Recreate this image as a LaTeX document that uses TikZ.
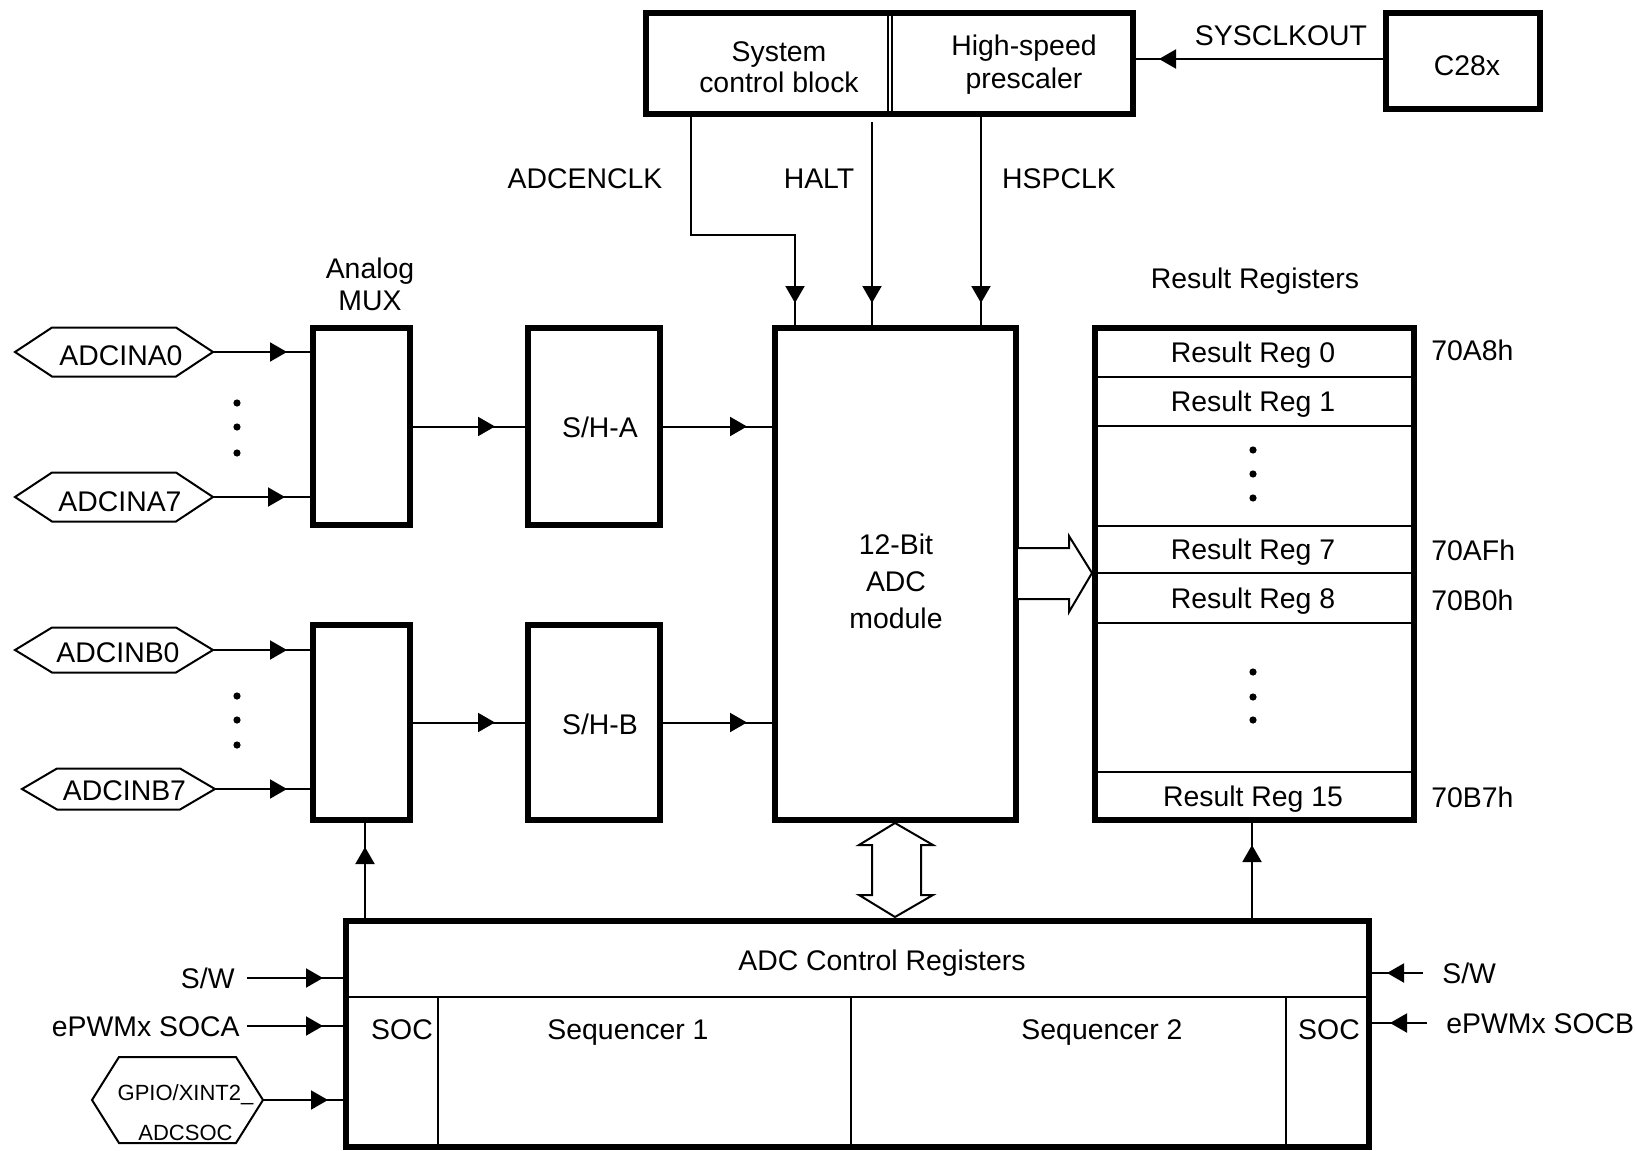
\documentclass[tikz,border=0pt]{standalone}
\usepackage{fontspec}
\setmainfont{Liberation Sans}
\usetikzlibrary{arrows.meta,decorations.markings,fit,calc}
\tikzset{
  thickbox/.style={draw, line width=3pt, inner sep=0pt},
  conn/.style={draw, line width=1pt},
  thinrule/.style={draw, line width=1pt},
  hollow/.style={draw, line width=1pt, fill=white, line join=miter},
  lbl/.style={inner sep=0pt, text height=0.716em, text depth=0pt, yshift=-1.8pt},
  mlbl/.style={inner sep=0pt, align=center, yshift=-1pt},
  arr/.style={postaction={decorate}, decoration={markings,
      mark=at position -#1 with {\arrow{Triangle[length=8.5pt,width=9.5pt]}}}},
  dotmark/.style={fill=black},
}
\newcommand\hexsig[8]{% name, cx, cy, half width, half height, slant, text shift x, text shift y
  \draw[conn] (#2-#4,#3) -- (#2-#4+#6,#3-#5) -- (#2+#4-#6,#3-#5) -- (#2+#4,#3)
     -- (#2+#4-#6,#3+#5) -- (#2-#4+#6,#3+#5) -- cycle;
  \coordinate (#1-e) at (#2+#4,#3);
  \coordinate (#1-t) at (#2+#7,#3+#8);
}
\begin{document}
\begin{tikzpicture}[x=0.5pt, y=-0.5pt, every node/.style={font=\fontsize{14.2pt}{16pt}\selectfont}]
\useasboundingbox (0,0) rectangle (1635,1151);

% ---------- top blocks ----------
\node[thickbox, fit={(646,13) (1133,114)}] (top) {};
\draw[line width=0.8pt] (888,16) -- (888,111);
\draw[line width=0.8pt] (892,16) -- (892,111);
\node[mlbl, font=\fontsize{14.2pt}{15.5pt}\selectfont] (scb) at (779,65) {System\\control block};
\node[mlbl, font=\fontsize{14.2pt}{16.5pt}\selectfont] (hsp) at (1024,63) {High-speed\\prescaler};
\node[thickbox, fit={(1386,13) (1540,109)}] (c28) {};
\node[lbl] (c28t) at (1467,65) {C28x};
\coordinate (ysys) at (0,59);
\draw[conn, arr=11.5pt] (c28.west |- ysys) -- (top.east |- ysys);
\node[lbl] (sysl) at (1281,35) {SYSCLKOUT};

% ---------- ADC module ----------
\node[thickbox, fit={(775,328) (1016,820)}] (adc) {};
\node[mlbl, font=\fontsize{14.2pt}{18.5pt}\selectfont] (adct) at (896,579) {12-Bit\\ADC\\module};

\coordinate (en1) at (691,235);
\coordinate (en2) at (795,235);
\draw[conn, arr=11pt] (top.south -| en1) -- (en1) -- (en2) -- (adc.north -| en2);
\coordinate (halt0) at (872,122);
\draw[conn, arr=11pt] (halt0) -- (adc.north -| halt0);
\coordinate (hsp0) at (981,0);
\draw[conn, arr=11pt] (top.south -| hsp0) -- (adc.north -| hsp0);
\node[lbl] (enl) at (585,178) {ADCENCLK};
\node[lbl] (haltl) at (819,178) {HALT};
\node[lbl] (hspl) at (1059,178) {HSPCLK};

% ---------- MUX and S/H ----------
\node[mlbl, font=\fontsize{14.2pt}{16pt}\selectfont] (muxl) at (370,282) {Analog\\MUX};
\node[thickbox, fit={(313,328) (410,525)}] (muxa) {};
\node[thickbox, fit={(313,625) (410,820)}] (muxb) {};
\node[thickbox, fit={(528,328) (660,525)}] (sha) {};
\node[thickbox, fit={(528,625) (660,820)}] (shb) {};
\node[lbl] (shat) at (600,427) {S/H-A};
\node[lbl] (shbt) at (600,724) {S/H-B};

\draw[conn, arr=15pt] (muxa.east) -- (sha.west);
\draw[conn, arr=15pt] (muxb.east) -- (shb.west);
\draw[conn, arr=12.5pt] (sha.east) -- (sha.east -| adc.west);
\draw[conn, arr=12.5pt] (shb.east) -- (shb.east -| adc.west);

% ---------- analog inputs ----------
\hexsig{a0}{114}{352}{99}{24.5}{37}{7}{3}
\hexsig{a7}{114}{497}{99}{24.5}{37}{6}{4}
\hexsig{b0}{114}{650}{99}{22.5}{37}{4}{2}
\hexsig{b7}{118.5}{789}{96.5}{20.5}{35}{6}{1}
\node[lbl] (a0t) at (a0-t) {ADCINA0};
\node[lbl] (a7t) at (a7-t) {ADCINA7};
\node[lbl] (b0t) at (b0-t) {ADCINB0};
\node[lbl] (b7t) at (b7-t) {ADCINB7};
\draw[conn, arr=11.5pt] (a0-e) -- (a0-e -| muxa.west);
\draw[conn, arr=12.5pt] (a7-e) -- (a7-e -| muxa.west);
\draw[conn, arr=11.5pt] (b0-e) -- (b0-e -| muxb.west);
\draw[conn, arr=11.5pt] (b7-e) -- (b7-e -| muxb.west);
\foreach \yy in {403,427,453,696,720,745} \fill[dotmark] (237,\yy) circle[radius=1.8pt];

% ---------- result registers ----------
\node[lbl] (resl) at (1255,278) {Result Registers};
\node[thickbox, fit={(1095,328) (1414,820)}] (res) {};
\foreach \yy in {377,426,526,573,623,772} \draw[thinrule] (1095,\yy) -- (1414,\yy);
\node[lbl] (r0) at (1253,352) {Result Reg 0};
\node[lbl] (r1) at (1253,401) {Result Reg 1};
\node[lbl] (r7) at (1253,549) {Result Reg 7};
\node[lbl] (r8) at (1253,598) {Result Reg 8};
\node[lbl] (r15) at (1253,796) {Result Reg 15};
\foreach \yy in {450,474,498,672,697,720} \fill[dotmark] (1253,\yy) circle[radius=1.8pt];
\node[lbl, anchor=west] (ad0) at (1431,350) {70A8h};
\node[lbl, anchor=west] (ad7) at (1431,550) {70AFh};
\node[lbl, anchor=west] (ad8) at (1431,600) {70B0h};
\node[lbl, anchor=west] (ad15) at (1431,797) {70B7h};

% hollow bus arrow ADC -> result
\draw[hollow] (1018,548) -- (1069,548) -- (1069,536) -- (1092,573) -- (1069,612) -- (1069,599) -- (1018,599);

% ---------- control registers ----------
\node[thickbox, fit={(346,921) (1369,1147)}] (ctrl) {};
\draw[thinrule] (346,997) -- (1369,997);
\draw[thinrule] (438,997) -- (438,1147);
\draw[thinrule] (851,997) -- (851,1147);
\draw[thinrule] (1286,997) -- (1286,1147);
\node[lbl] (ctrlt) at (882,960) {ADC Control Registers};
\node[lbl] (soc1) at (402,1029) {SOC};
\node[lbl] (seq1) at (628,1029) {Sequencer 1};
\node[lbl] (seq2) at (1102,1029) {Sequencer 2};
\node[lbl] (soc2) at (1329,1029) {SOC};

% hollow double arrow ADC <-> control
\draw[hollow] (895,823) -- (933,845) -- (921,845) -- (921,895) -- (933,895) -- (895,917)
   -- (859,895) -- (872,895) -- (872,845) -- (859,845) -- cycle;

% up arrows
\coordinate (xm) at (365,0);
\draw[conn, arr=12pt] (ctrl.north -| xm) -- (muxb.south -| xm);
\coordinate (xr) at (1252,0);
\draw[conn, arr=11pt] (ctrl.north -| xr) -- (res.south -| xr);

% left inputs
\coordinate (swl) at (247,978);
\draw[conn, arr=10pt] (swl) -- (swl -| ctrl.west);
\node[lbl, anchor=east] (swlt) at (235,978) {S/W};
\coordinate (soca) at (247,1026);
\draw[conn, arr=10pt] (soca) -- (soca -| ctrl.west);
\node[lbl, anchor=east] (socat) at (240,1026) {ePWMx SOCA};
\hexsig{gp}{177.5}{1100}{85.5}{43}{27}{8}{11}
\node[mlbl, font=\fontsize{11pt}{20pt}\selectfont] (gpt) at (gp-t) {GPIO/XINT2\_\\ADCSOC};
\draw[conn, arr=7.5pt] (gp-e) -- (gp-e -| ctrl.west);

% right inputs
\coordinate (swr) at (1423,973);
\draw[conn, arr=7.5pt] (swr) -- (swr -| ctrl.east);
\node[lbl, anchor=west] (swrt) at (1442,973) {S/W};
\coordinate (socb) at (1427,1023);
\draw[conn, arr=9pt] (socb) -- (socb -| ctrl.east);
\node[lbl, anchor=west] (socbt) at (1446,1023) {ePWMx SOCB};
\end{tikzpicture}
\end{document}
